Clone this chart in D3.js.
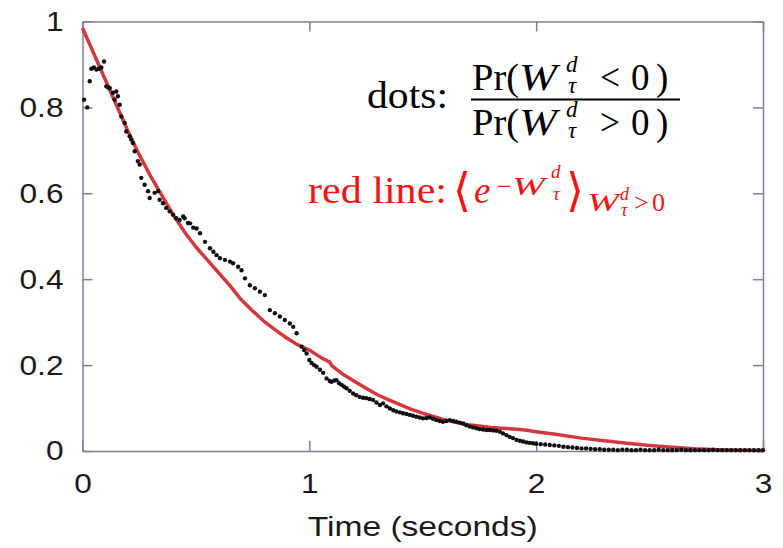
<!DOCTYPE html>
<html>
<head>
<meta charset="utf-8">
<script src="https://cdn.jsdelivr.net/npm/d3@7"></script>
<style>
    body { margin: 0; background: #fff; }
</style>
</head>
<body>
<div id="app"></div>
<script>
// red line: <e^{-W}>
const redT = [0, 0.05, 0.1, 0.15, 0.2, 0.25, 0.3, 0.35, 0.4, 0.45, 0.5, 0.55, 0.6, 0.65, 0.7, 0.75, 0.8, 0.85, 0.9, 0.95,
    1.0, 1.05, 1.09, 1.1, 1.15, 1.2, 1.25, 1.3, 1.35, 1.4, 1.45, 1.5, 1.55, 1.6, 1.65, 1.7, 1.75, 1.8, 1.85, 1.9, 1.95,
    2.0, 2.1, 2.2, 2.3, 2.4, 2.5, 2.6, 2.7, 2.8, 2.9, 3.0];
const redV = [0.985, 0.925, 0.865, 0.805, 0.745, 0.69, 0.64, 0.595, 0.55, 0.51, 0.475, 0.445, 0.415, 0.385, 0.352, 0.326, 0.302, 0.282, 0.263, 0.247,
    0.235, 0.218, 0.207, 0.198, 0.178, 0.162, 0.146, 0.131, 0.119, 0.108, 0.097, 0.088, 0.08, 0.072, 0.066, 0.061, 0.058, 0.055, 0.053, 0.051, 0.049,
    0.045, 0.038, 0.03, 0.024, 0.018, 0.013, 0.009, 0.005, 0.003, 0.002, 0.001];

// dots: Pr(W<0)/Pr(W>0)
const dotT = [0.007, 0.021, 0.032, 0.039, 0.05, 0.061, 0.072, 0.083, 0.095, 0.105, 0.112, 0.12, 0.134, 0.142, 0.149, 0.156, 0.164,
    0.171, 0.186, 0.193, 0.208, 0.215, 0.222, 0.23, 0.244, 0.252, 0.259, 0.274, 0.289, 0.296, 0.318, 0.333, 0.34, 0.355,
    0.369, 0.384, 0.399, 0.413, 0.428, 0.444, 0.45, 0.465, 0.474, 0.488, 0.503, 0.518, 0.54, 0.562, 0.577, 0.591, 0.606,
    0.628, 0.65, 0.664, 0.686, 0.701, 0.716, 0.738, 0.76, 0.782, 0.804, 0.826, 0.848, 0.87, 0.892, 0.914, 0.929, 0.944,
    0.966, 0.977, 0.988, 1.0, 1.01, 1.021, 1.032, 1.047, 1.061, 1.076, 1.09, 1.098, 1.11, 1.12, 1.131, 1.142, 1.153, 1.164,
    1.178, 1.193, 1.207, 1.222, 1.237, 1.252, 1.266, 1.281, 1.296, 1.311, 1.325, 1.34, 1.355, 1.37, 1.384, 1.399, 1.413,
    1.428, 1.443, 1.457, 1.472, 1.487, 1.501, 1.516, 1.531, 1.545, 1.56, 1.575, 1.589, 1.604, 1.619, 1.634, 1.648, 1.663,
    1.678, 1.692, 1.707, 1.722, 1.737, 1.751, 1.766, 1.781, 1.795, 1.81, 1.825, 1.84, 1.854, 1.869, 1.883, 1.898, 1.913,
    1.928, 1.942, 1.957, 1.971, 1.986, 2.0, 2.02, 2.04, 2.06, 2.08, 2.1, 2.12, 2.14, 2.16, 2.18, 2.2, 2.22, 2.24, 2.26,
    2.28, 2.3, 2.32, 2.34, 2.36, 2.38, 2.4, 2.42, 2.44, 2.46, 2.48, 2.5, 2.52, 2.54, 2.56, 2.58, 2.6, 2.62, 2.64, 2.66,
    2.68, 2.7, 2.72, 2.74, 2.76, 2.78, 2.8, 2.82, 2.84, 2.86, 2.88, 2.9, 2.92, 2.94, 2.96, 2.98, 3.0];
const dotV = [0.818, 0.8, 0.861, 0.89, 0.893, 0.888, 0.89, 0.893, 0.907, 0.849, 0.847, 0.845, 0.834, 0.818, 0.837, 0.826, 0.806,
    0.779, 0.764, 0.744, 0.733, 0.725, 0.717, 0.698, 0.675, 0.667, 0.636, 0.62, 0.605, 0.589, 0.601, 0.605, 0.585, 0.577,
    0.566, 0.558, 0.55, 0.542, 0.538, 0.546, 0.542, 0.531, 0.53, 0.52, 0.518, 0.507, 0.487, 0.472, 0.464, 0.456, 0.449,
    0.445, 0.441, 0.437, 0.429, 0.421, 0.402, 0.386, 0.379, 0.371, 0.363, 0.328, 0.321, 0.313, 0.305, 0.297, 0.289, 0.274,
    0.243, 0.235, 0.227, 0.212, 0.205, 0.2, 0.196, 0.189, 0.182, 0.169, 0.163, 0.161, 0.164, 0.165, 0.158, 0.154, 0.15, 0.146,
    0.14, 0.134, 0.13, 0.126, 0.124, 0.123, 0.121, 0.119, 0.113, 0.107, 0.111, 0.104, 0.099, 0.095, 0.092, 0.09, 0.088,
    0.086, 0.084, 0.082, 0.08, 0.078, 0.076, 0.077, 0.078, 0.075, 0.072, 0.07, 0.068, 0.07, 0.072, 0.07, 0.068, 0.066,
    0.064, 0.06, 0.057, 0.055, 0.053, 0.051, 0.05, 0.049, 0.049, 0.048, 0.047, 0.045, 0.041, 0.037, 0.033, 0.03, 0.026,
    0.024, 0.022, 0.02, 0.019, 0.018, 0.017, 0.016, 0.015, 0.014, 0.013, 0.012, 0.01, 0.009, 0.008, 0.007, 0.006, 0.006, 0.005, 0.004,
    0.004, 0.003, 0.003, 0.003, 0.002, 0.003, 0.003, 0.002, 0.002, 0.003, 0.002, 0.002, 0.002, 0.003, 0.002, 0.002, 0.002, 0.002, 0.003, 0.002,
    0.002, 0.002, 0.002, 0.002, 0.002, 0.003, 0.002, 0.002, 0.002, 0.002, 0.002, 0.002, 0.002, 0.002, 0.002, 0.002, 0.002];

const xTicks = [0, 1, 2, 3];
const yTicks = [0, 0.2, 0.4, 0.6, 0.8, 1];
const xTitle = 'Time (seconds)';

let width = 783, height = 548;
let plotL = 82.5, plotR = 763, plotT = 21.5, plotB = 451;
let frameColor = '#7f7f9c', redColor = '#d4383f', sans = '"Liberation Sans", Arial, Helvetica, sans-serif',
    serif = '"Liberation Serif", "Times New Roman", serif';

let svg = d3.select('#app').append('svg').attr('width', width).attr('height', height);

const x = d3.scaleLinear().domain([0, 3]).range([plotL, plotR]);
const y = d3.scaleLinear().domain([0, 1]).range([plotB, plotT]);

const yFmt = d => (d === 0 || d === 1) ? String(d) : d.toFixed(1);

// axes, ticks point inward on all four sides
svg.append('g').attr('transform', `translate(0,${plotB})`)
    .call(d3.axisBottom(x).tickValues(xTicks).tickFormat(d3.format('d')).tickSizeInner(-10).tickSizeOuter(0).tickPadding(22));
svg.append('g').attr('transform', `translate(${plotL},0)`)
    .call(d3.axisLeft(y).tickValues(yTicks).tickFormat(yFmt).tickSizeInner(-10).tickSizeOuter(0).tickPadding(19));
svg.append('g').attr('transform', `translate(0,${plotT})`)
    .call(d3.axisTop(x).tickValues(xTicks).tickFormat('').tickSizeInner(-10).tickSizeOuter(0));
svg.append('g').attr('transform', `translate(${plotR},0)`)
    .call(d3.axisRight(y).tickValues(yTicks).tickFormat('').tickSizeInner(-10).tickSizeOuter(0));

svg.selectAll('.domain, .tick line').attr('stroke', frameColor).attr('stroke-width', 1.5);
svg.selectAll('.tick text').attr('fill', '#1a1a1a').style('font-family', sans).style('font-size', '28px');

svg.append('text')
    .attr('class', 'x-title')
    .attr('x', (plotL + plotR) / 2)
    .attr('y', 536)
    .attr('text-anchor', 'middle')
    .attr('fill', '#1a1a1a')
    .style('font-family', sans).style('font-size', '28px')
    .text(xTitle);

// the reference's sans text is a little wide
svg.selectAll('.tick text').each(function () {
    let len = this.getComputedTextLength();
    if (len > 0) d3.select(this).attr('textLength', len * 1.13).attr('lengthAdjust', 'spacingAndGlyphs');
});
svg.select('.x-title').attr('textLength', 230).attr('lengthAdjust', 'spacingAndGlyphs');

// red line
const redPts = redT.map((t, i) => [t, redV[i]]);
svg.append('path')
    .datum(redPts)
    .attr('fill', 'none')
    .attr('stroke', redColor)
    .attr('stroke-width', 3.5)
    .attr('stroke-linejoin', 'round')
    .attr('d', d3.line().x(d => x(d[0])).y(d => y(d[1])));

// dots
svg.append('g').selectAll('circle').data(dotT)
    .enter().append('circle')
    .attr('cx', d => x(d))
    .attr('cy', (d, i) => y(dotV[i]))
    .attr('r', 2.2)
    .attr('fill', '#111');

// legend, set as loose math pieces
function piece(str, px, py, size, opts) {
    opts = opts || {};
    let t = svg.append('text')
        .attr('x', px).attr('y', py)
        .attr('fill', opts.color || '#000')
        .style('font-family', opts.font || serif)
        .style('font-size', size + 'px')
        .style('font-style', opts.italic ? 'italic' : 'normal')
        .text(str);
    if (opts.w) t.attr('textLength', opts.w).attr('lengthAdjust', 'spacingAndGlyphs');
    return t;
}

piece('dots:', 367, 108, 37, { w: 81 });
svg.append('line').attr('x1', 471).attr('x2', 680).attr('y1', 99.5).attr('y2', 99.5)
    .attr('stroke', '#000').attr('stroke-width', 1.8);

[[90, '<'], [135, '>']].forEach(([base, rel]) => {
    piece('Pr(', 472, base, 37, { w: 47 });
    piece('W', 519, base, 37, { italic: true, w: 38 });
    piece('d', 566, base - 18, 23, { italic: true });
    piece('τ', 568, base + 3, 23, { italic: true });
    piece(rel, 600, base, 37, { w: 20 });
    piece('0', 631, base, 37);
    piece(')', 656, base, 37);
});

let red = '#f01414';
piece('red line:', 308, 203, 37, { color: red, w: 139 });
piece('⟨', 453, 206, 46, { color: red, font: '"DejaVu Serif", serif' });
piece('e', 474, 203, 37, { color: red, italic: true });
piece('−', 497, 195, 26, { color: red });
piece('W', 512, 195, 26, { color: red, italic: true, w: 33 });
piece('d', 551, 178, 19, { color: red, italic: true });
piece('τ', 553, 200, 19, { color: red, italic: true });
piece('⟩', 566, 206, 46, { color: red, font: '"DejaVu Serif", serif' });
piece('W', 587, 211, 26, { color: red, italic: true, w: 32 });
piece('d', 620, 200, 18, { color: red, italic: true });
piece('τ', 621, 216, 18, { color: red, italic: true });
piece('>', 634, 211, 26, { color: red });
piece('0', 652, 211, 26, { color: red });
</script>
</body>
</html>
